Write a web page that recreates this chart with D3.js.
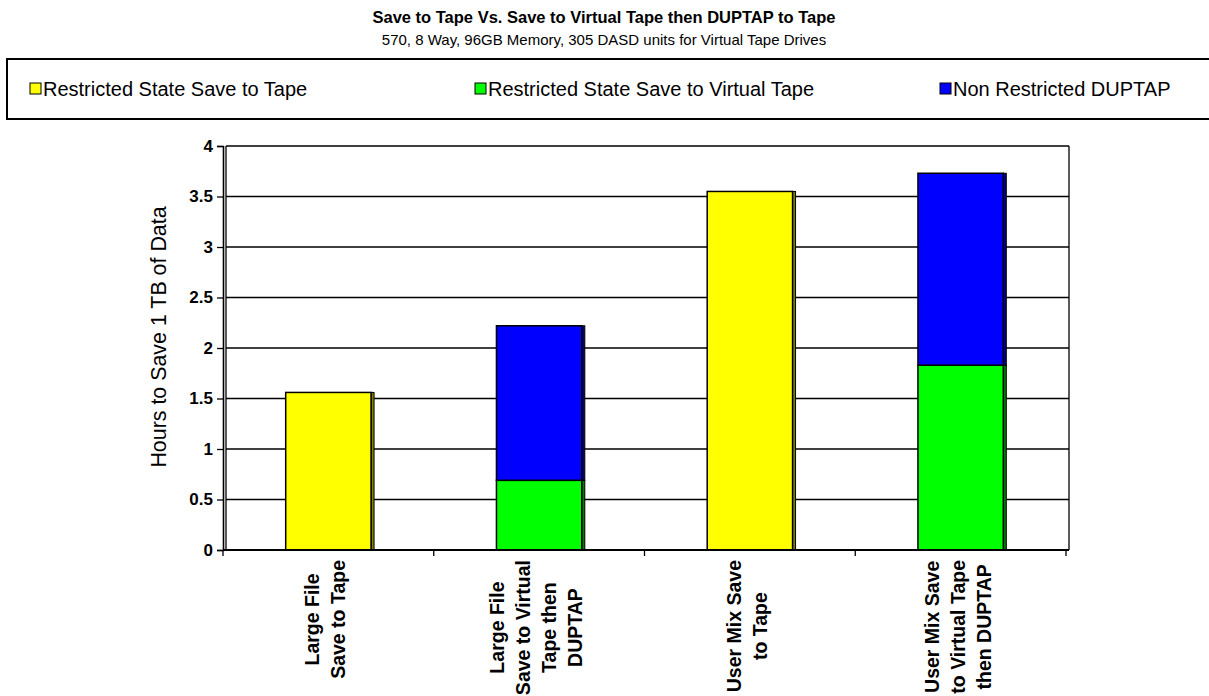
<!DOCTYPE html>
<html>
<head>
<meta charset="utf-8">
<script src="https://cdn.jsdelivr.net/npm/d3@7"></script>
<style>
  body { margin: 0; background: #fff; }
  svg text { font-family: Arial, "Liberation Sans", sans-serif; }
</style>
</head>
<body>
<div id="chart"></div>
<script>
// categories (line-broken like the original axis labels)
var categories = [
    ['Large File', 'Save to Tape'],
    ['Large File', 'Save to Virtual', 'Tape then', 'DUPTAP'],
    ['User Mix Save', 'to Tape'],
    ['User Mix Save', 'to Virtual Tape', 'then DUPTAP']
];
var seriesNames = ['Restricted State Save to Tape', 'Restricted State Save to Virtual Tape', 'Non Restricted DUPTAP'];
var saveToTape = [1.56, 0, 3.55, 0];
var saveToVirtual = [0, 0.69, 0, 1.83];
var dupTap = [0, 1.53, 0, 1.90];
var yTicks = [0, 0.5, 1, 1.5, 2, 2.5, 3, 3.5, 4];

var colours = ['#ffff00', '#00ff00', '#0000ff'];
var sideColours = ['#808000', '#008000', '#000080'];

var W = 1209, H = 696;
var svg = d3.select('#chart').append('svg')
    .attr('width', W).attr('height', H);

// titles
svg.append('text')
    .attr('x', 604).attr('y', 23)
    .attr('text-anchor', 'middle')
    .style('font-size', '16.5px').style('font-weight', 'bold')
    .text('Save to Tape Vs. Save to Virtual Tape then DUPTAP to Tape');
svg.append('text')
    .attr('x', 604).attr('y', 45)
    .attr('text-anchor', 'middle')
    .style('font-size', '15px')
    .text('570, 8 Way, 96GB Memory, 305 DASD units for Virtual Tape Drives');

// legend box
svg.append('rect')
    .attr('x', 7).attr('y', 59).attr('width', 1220).attr('height', 60)
    .attr('fill', 'none').attr('stroke', '#000').attr('stroke-width', 2);

var legendX = [30, 475, 940];
var legend = svg.selectAll('.legend')
    .data(seriesNames)
    .enter().append('g')
    .attr('class', 'legend')
    .attr('transform', function(d, i) { return `translate(${legendX[i]}, 89)`; });
legend.append('rect')
    .attr('x', 0).attr('y', -6).attr('width', 11).attr('height', 11)
    .attr('fill', function(d, i) { return colours[i]; })
    .attr('stroke', '#000').attr('stroke-width', 1);
legend.append('text')
    .attr('x', 13).attr('y', 7)
    .style('font-size', '20px')
    .text(function(d) { return d; });

// scales
var x0 = 223, x1 = 1066, yTop = 146, yBottom = 550, depth = 3;
var x = d3.scaleBand()
    .domain(d3.range(categories.length))
    .range([x0, x1])
    .padding(0);
var y = d3.scaleLinear()
    .domain([0, 4])
    .range([yBottom, yTop]);
var barW = x.bandwidth() * 0.405;

// plot back wall + gridlines
var plot = svg.append('g');
plot.selectAll('.grid')
    .data(yTicks.filter(function(d) { return d > 0; }))
    .enter().append('line')
    .attr('x1', x0 + depth).attr('x2', x1 + depth)
    .attr('y1', function(d) { return y(d); })
    .attr('y2', function(d) { return y(d); })
    .attr('stroke', '#000').attr('stroke-width', 1.3);
plot.append('line')
    .attr('x1', x1 + depth).attr('x2', x1 + depth)
    .attr('y1', yTop).attr('y2', yBottom)
    .attr('stroke', '#000').attr('stroke-width', 1.3);
plot.append('line')
    .attr('x1', x0 + depth).attr('x2', x0 + depth)
    .attr('y1', yTop).attr('y2', yBottom)
    .attr('stroke', '#000').attr('stroke-width', 1.3);

// stacked bars
var stackData = categories.map(function(c, i) {
    return { i: i, s0: saveToTape[i], s1: saveToVirtual[i], s2: dupTap[i] };
});
var stack = d3.stack().keys(['s0', 's1', 's2'])(stackData);

stack.forEach(function(layer, k) {
    var g = plot.append('g');
    var segs = layer.filter(function(d) { return d[1] - d[0] > 0; });
    // side face
    g.selectAll('.side')
        .data(segs)
        .enter().append('rect')
        .attr('x', function(d) { return x(d.data.i) + x.bandwidth() / 2 + barW / 2; })
        .attr('y', function(d) { return y(d[1]); })
        .attr('width', depth)
        .attr('height', function(d) { return y(d[0]) - y(d[1]); })
        .attr('fill', sideColours[k])
        .attr('stroke', '#000').attr('stroke-width', 1);
    // front face
    g.selectAll('.front')
        .data(segs)
        .enter().append('rect')
        .attr('x', function(d) { return x(d.data.i) + x.bandwidth() / 2 - barW / 2; })
        .attr('y', function(d) { return y(d[1]); })
        .attr('width', barW)
        .attr('height', function(d) { return y(d[0]) - y(d[1]); })
        .attr('fill', colours[k])
        .attr('stroke', '#000').attr('stroke-width', 1.5);
});

// y axis
var yAxis = svg.append('g')
    .attr('transform', `translate(${x0}, 0)`)
    .call(d3.axisLeft(y).tickValues(yTicks).tickSize(6).tickPadding(4)
        .tickFormat(function(d) { return d; }));
yAxis.select('.domain').attr('stroke-width', 1.6);
yAxis.selectAll('line').attr('stroke-width', 1.3);
yAxis.selectAll('text')
    .style('font-size', '17px').style('font-weight', 'bold')
    .style('font-family', 'Arial, "Liberation Sans", sans-serif');

// x axis
var xAxis = svg.append('g')
    .attr('transform', `translate(0, ${yBottom})`);
xAxis.append('line')
    .attr('x1', x0).attr('x2', x1 + depth)
    .attr('stroke', '#000').attr('stroke-width', 2.2);
xAxis.selectAll('.tick')
    .data(d3.range(categories.length + 1))
    .enter().append('line')
    .attr('x1', function(d) { return x0 + d * x.step(); })
    .attr('x2', function(d) { return x0 + d * x.step(); })
    .attr('y1', 0).attr('y2', 6)
    .attr('stroke', '#000').attr('stroke-width', 1.3);

// category labels, rotated, lines centred on each other
var lineGap = 26;
categories.forEach(function(lines, i) {
    var cx = x(i) + x.bandwidth() / 2;
    var n = lines.length;
    var g = svg.append('g');
    var texts = lines.map(function(t, j) {
        var px = cx + (j - (n - 1) / 2) * lineGap + 4;
        return g.append('text')
            .attr('transform', `translate(${px}, 560) rotate(-90)`)
            .attr('text-anchor', 'middle')
            .style('font-size', '19.5px').style('font-weight', 'bold')
            .text(t);
    });
    var maxLen = d3.max(texts, function(t) { return t.node().getComputedTextLength(); });
    texts.forEach(function(t) { t.attr('x', -maxLen / 2); });
});

// y axis title
svg.append('text')
    .attr('transform', `translate(166, 337) rotate(-90)`)
    .attr('text-anchor', 'middle')
    .style('font-size', '21.4px')
    .text('Hours to Save 1 TB of Data');
</script>
</body>
</html>
